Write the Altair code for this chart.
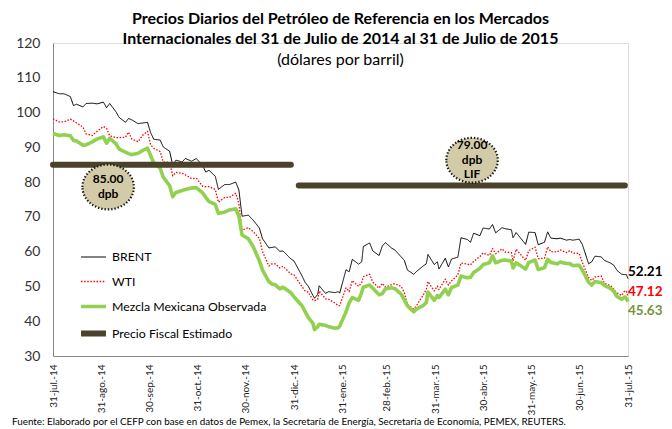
import altair as alt
import pandas as pd

# ---------------- data ----------------
fechas = [
    "2014-07-31","2014-08-04","2014-08-07","2014-08-11","2014-08-13","2014-08-15","2014-08-19","2014-08-21",
    "2014-08-25","2014-08-28","2014-09-01","2014-09-03","2014-09-05","2014-09-09","2014-09-11","2014-09-15",
    "2014-09-17","2014-09-19","2014-09-23","2014-09-26","2014-09-29","2014-10-01","2014-10-03","2014-10-07",
    "2014-10-09","2014-10-13","2014-10-15","2014-10-17","2014-10-21","2014-10-23","2014-10-27","2014-10-30",
    "2014-11-03","2014-11-05","2014-11-07","2014-11-11","2014-11-13","2014-11-17","2014-11-20","2014-11-24",
    "2014-11-26","2014-11-28","2014-12-02","2014-12-05","2014-12-09","2014-12-11","2014-12-15","2014-12-17",
    "2014-12-19","2014-12-22","2014-12-24","2014-12-29","2014-12-31","2015-01-05","2015-01-07","2015-01-09",
    "2015-01-12","2015-01-13","2015-01-15","2015-01-16","2015-01-20","2015-01-22","2015-01-26","2015-01-28",
    "2015-01-29","2015-02-02","2015-02-04","2015-02-06","2015-02-10","2015-02-12","2015-02-13","2015-02-17",
    "2015-02-19","2015-02-23","2015-02-25","2015-02-27","2015-03-03","2015-03-05","2015-03-09","2015-03-11",
    "2015-03-13","2015-03-17","2015-03-19","2015-03-23","2015-03-25","2015-03-26","2015-03-30","2015-04-01",
    "2015-04-02","2015-04-06","2015-04-08","2015-04-10","2015-04-14","2015-04-16","2015-04-20","2015-04-22",
    "2015-04-24","2015-04-28","2015-04-30","2015-05-04","2015-05-06","2015-05-08","2015-05-12","2015-05-14",
    "2015-05-18","2015-05-19","2015-05-21","2015-05-27","2015-05-29","2015-06-02","2015-06-04","2015-06-08",
    "2015-06-10","2015-06-12","2015-06-16","2015-06-18","2015-06-22","2015-06-24","2015-06-26","2015-06-30",
    "2015-07-02","2015-07-06","2015-07-08","2015-07-10","2015-07-14","2015-07-16","2015-07-20","2015-07-22",
    "2015-07-24","2015-07-27","2015-07-29","2015-07-30","2015-07-31",
]
brent = [
    106.0,105.4,105.4,104.6,102.0,102.4,101.6,102.6,
    102.7,102.5,103.0,101.4,102.6,100.2,98.6,97.2,
    98.3,97.9,96.8,97.0,97.2,94.2,92.3,92.1,
    90.1,88.9,84.9,86.3,85.8,86.8,86.0,86.8,
    84.7,82.9,83.4,81.7,77.9,79.3,79.3,80.0,
    77.7,70.2,70.5,69.1,66.8,63.7,61.1,61.2,
    61.4,60.1,60.2,57.9,57.3,53.1,51.2,50.1,
    47.4,46.6,47.7,50.2,48.0,48.5,48.2,48.5,
    48.1,54.8,54.2,57.8,56.4,57.1,61.5,62.5,
    60.2,58.9,61.6,62.6,61.0,60.5,58.5,57.5,
    54.7,53.5,54.4,55.9,56.5,59.2,56.3,57.1,
    55.0,58.1,55.6,57.9,58.4,64.0,63.5,62.7,
    65.3,64.6,66.8,66.5,67.8,65.4,66.9,66.6,
    66.3,64.0,65.5,62.1,65.6,65.5,62.0,62.7,
    65.7,63.9,63.7,63.9,63.3,63.5,63.3,63.6,
    62.1,56.5,57.1,58.7,58.5,57.5,56.7,56.1,
    54.6,53.5,53.4,53.4,52.21,
]
wti = [
    98.2,97.3,97.3,98.1,97.6,97.0,95.8,93.9,
    93.4,94.6,96.0,95.5,93.3,92.8,92.8,92.9,
    94.4,92.4,91.6,93.5,94.6,90.7,89.7,88.8,
    85.8,85.7,81.8,82.8,82.5,82.1,81.0,81.1,
    78.8,78.7,78.7,77.9,74.2,75.6,75.6,76.8,
    73.7,66.2,66.9,65.8,63.8,60.0,55.9,56.5,
    56.5,55.3,55.8,53.6,53.3,50.0,48.7,48.4,
    46.1,45.9,46.3,48.7,46.4,46.3,45.2,44.5,
    44.5,49.6,48.5,51.7,50.0,51.2,52.8,53.5,
    51.2,49.5,50.9,49.8,50.5,50.8,50.0,48.2,
    44.8,43.5,44.7,47.5,49.2,51.4,48.7,50.1,
    49.1,52.1,50.4,51.6,53.3,56.7,56.4,56.2,
    57.2,58.6,59.6,58.9,60.9,59.4,60.8,59.9,
    59.7,57.3,60.7,57.5,60.3,61.3,58.0,58.1,
    61.4,60.0,59.9,60.5,59.7,60.3,59.6,59.5,
    56.9,52.5,51.7,52.7,53.0,50.9,50.2,49.2,
    48.1,47.4,48.8,48.5,47.12,
]
mezcla = [
    94.0,93.4,93.6,93.3,92.0,91.8,90.6,90.7,
    91.6,92.4,93.0,91.2,92.6,91.0,89.5,88.6,
    88.2,87.9,88.3,89.1,89.8,87.6,85.5,84.0,
    81.4,79.0,75.8,77.0,77.6,77.9,78.3,78.4,
    76.9,75.6,74.4,73.6,71.0,71.4,72.0,72.3,
    70.2,64.8,63.7,61.5,57.4,54.7,51.4,50.7,
    50.5,49.3,49.8,48.2,47.0,44.5,42.8,41.1,
    39.4,37.6,38.4,39.1,38.8,38.4,38.0,38.1,
    38.6,42.7,45.3,46.8,46.0,48.4,49.8,50.4,
    49.5,47.6,47.9,49.3,49.6,49.4,47.8,46.2,
    44.4,42.7,43.6,44.5,45.4,48.4,46.0,47.4,
    46.8,49.2,47.6,49.7,50.4,53.0,52.5,52.6,
    54.0,55.2,56.3,56.8,58.8,56.8,57.5,57.6,
    57.3,55.3,56.8,55.0,56.9,57.6,54.9,55.4,
    57.8,56.9,56.5,57.0,56.6,56.6,56.0,56.1,
    54.7,51.2,50.4,51.4,51.1,50.3,49.4,48.6,
    47.1,46.3,47.0,46.5,45.63,
]

# fiscal reference price (two segments)
fiscal_fechas = ["2014-07-31", "2014-12-29", "2015-01-03", "2015-07-29"]
fiscal_valores = [85.0, 85.0, 79.0, 79.0]
fiscal_tramo = ["2014", "2014", "2015", "2015"]

# balloons
globo_fechas = ["2014-09-04", "2015-04-23"]
globo_valores = [78.6, 86.3]
globo_textos = [["85.00", "dpb"], ["79.00", "dpb", "LIF"]]

series = ["BRENT", "WTI", "Mezcla Mexicana Observada", "Precio Fiscal Estimado"]

tick_fechas = ["2014-07-31","2014-08-31","2014-09-30","2014-10-31","2014-11-30","2014-12-31",
               "2015-01-31","2015-02-28","2015-03-31","2015-04-30","2015-05-31","2015-06-30","2015-07-31"]
tick_textos = ["31-jul.-14","31-ago.-14","30-sep.-14","31-oct.-14","30-nov.-14","31-dic.-14",
               "31-ene.-15","28-feb.-15","31-mar.-15","30-abr.-15","31-may.-15","30-jun.-15","31-jul.-15"]
y_ticks = [30, 40, 50, 60, 70, 80, 90, 100, 110, 120]

titulo = ["Precios Diarios del Petróleo de Referencia en los Mercados",
          "Internacionales del 31 de Julio de 2014 al 31 de Julio de 2015"]
subtitulo = "(dólares por barril)"
fuente = ("Fuente: Elaborado por el CEFP con base en datos de Pemex,  la Secretaría de Energía, "
          "Secretaría de Economía, PEMEX, REUTERS.")

# ---------------- styles ----------------
colores = ["#000000", "#ff0000", "#92d050", "#4a4329"]
grosores = [1.0, 1.3, 3.6, 6.0]
guiones = [[1, 0], [1.5, 1.6], [1, 0], [1, 0]]
color_etiquetas = ["#000000", "#ff0000", "#77933c"]
dy_etiquetas = [-7, -4, 9]
FONT = "Lato"
LH_GLOBO = 14.5

# ---------------- tables ----------------
filas = []
for nombre, vals in zip(series[:3], [brent, wti, mezcla]):
    for f, v in zip(fechas, vals):
        filas.append({"fecha": f, "valor": v, "serie": nombre, "tramo": "a"})
for f, v, t in zip(fiscal_fechas, fiscal_valores, fiscal_tramo):
    filas.append({"fecha": f, "valor": v, "serie": series[3], "tramo": t})
df = pd.DataFrame(filas)

df_globos = pd.DataFrame({"fecha": globo_fechas, "valor": globo_valores})

def ms(d):
    return int(pd.Timestamp(d).value // 10**6)

tick_ms = [ms(d) for d in tick_fechas]
label_expr = ("[" + ",".join("'%s'" % t for t in tick_textos) + "][indexof(["
              + ",".join("'%s'" % d for d in tick_fechas) + "], utcFormat(datum.value, '%Y-%m-%d'))]")

xscale = alt.Scale(domain=[ms(tick_fechas[0]), ms(tick_fechas[-1])])
yscale = alt.Scale(domain=[30, 120], nice=False, zero=False)

xaxis = alt.Axis(values=tick_ms, labelExpr=label_expr, labelAngle=270, labelFont=FONT,
                 labelFontSize=10, labelColor="#222222", grid=False, ticks=False, tickSize=0,
                 domainColor="#868686", labelPadding=8, title=None, labelOverlap=False)
yaxis = alt.Axis(values=y_ticks, grid=False, ticks=False, tickSize=0, domainColor="#868686",
                 labelFont=FONT, labelFontSize=14, labelColor="#333333", labelPadding=13, title=None,
                 labelOverlap=False, labelBound=False, labelFlush=False)

def X():
    return alt.X("fecha:T", scale=xscale, axis=xaxis)

def Y():
    return alt.Y("valor:Q", scale=yscale, axis=yaxis)

leyenda = alt.Legend(
    title=None, orient="none", legendX=25, legendY=201, padding=0,
    labelFont=FONT, labelFontSize=12.3, labelColor="#000000", symbolType="stroke",
    symbolSize=620, rowPadding=4, labelOffset=3, labelLimit=400,
)

def capa(i):
    nombre = series[i]
    return alt.Chart(df).transform_filter(alt.datum.serie == nombre).mark_line(
        strokeCap="round" if i == 3 else "butt", strokeJoin="round"
    ).encode(
        x=X(), y=Y(),
        color=alt.Color("serie:N", scale=alt.Scale(domain=series, range=colores), legend=leyenda),
        strokeDash=alt.StrokeDash("serie:N", scale=alt.Scale(domain=series, range=guiones), legend=leyenda),
        strokeWidth=alt.StrokeWidth("serie:N", scale=alt.Scale(type="ordinal", domain=series, range=grosores),
                                    legend=leyenda),
        detail="tramo:N",
    )

lineas = [capa(i) for i in range(4)]

elipse = "M -1 0 A 1 0.87 0 1 1 1 0 A 1 0.87 0 1 1 -1 0 Z"
globos = alt.Chart(df_globos).mark_point(
    shape=elipse, size=2650, filled=True, fill="#d3cba8", fillOpacity=1,
    stroke="#1a1a1a", strokeWidth=2.2, strokeDash=[1.4, 1.9], opacity=1
).encode(x=X(), y=Y())

textos_globos = []
for f, v, lineas_txt in zip(globo_fechas, globo_valores, globo_textos):
    d = pd.DataFrame({"fecha": [f], "valor": [v], "texto": ["\n".join(lineas_txt)]})
    textos_globos.append(
        alt.Chart(d).mark_text(
            font=FONT, fontSize=12, fontWeight="bold", color="#000000", lineBreak="\n",
            lineHeight=LH_GLOBO, align="center", baseline="top",
            dy=-len(lineas_txt) * LH_GLOBO / 2 + 2,
        ).encode(x=X(), y=Y(), text="texto:N")
    )

etiquetas = []
for i, vals in enumerate([brent, wti, mezcla]):
    d = pd.DataFrame({"fecha": [fechas[-1]], "valor": [vals[-1]]})
    etiquetas.append(
        alt.Chart(d).mark_text(font=FONT, fontSize=13.5, fontWeight="bold", color=color_etiquetas[i],
                               align="left", baseline="middle", dx=0, dy=dy_etiquetas[i])
        .encode(x=X(), y=Y(), text=alt.Text("valor:Q", format=".2f"))
    )

nota = alt.Chart(pd.DataFrame({"t": [fuente]})).mark_text(
    font=FONT, fontSize=9.85, color="#000000", align="left", baseline="middle"
).encode(x=alt.value(-41), y=alt.value(379), text="t:N")

chart = alt.layer(*lineas, globos, *textos_globos, *etiquetas, nota).properties(
    width=575, height=313,
    autosize=alt.AutoSizeParams(type="none"),
    padding={"left": 45, "top": 35, "right": 36, "bottom": 73},
    title=alt.TitleParams(
        text=titulo, subtitle=subtitulo, anchor="middle", font=FONT, fontSize=16,
        fontWeight="bold", color="#000000", lineHeight=20, subtitleFont=FONT,
        subtitleFontSize=16, subtitleColor="#000000", subtitlePadding=5, offset=-32,
    ),
).configure_view(stroke=None).configure(background="white").configure_axisY(labelOverlap=False)

chart.save("out.html", embed_options={"renderer": "svg", "actions": False})
